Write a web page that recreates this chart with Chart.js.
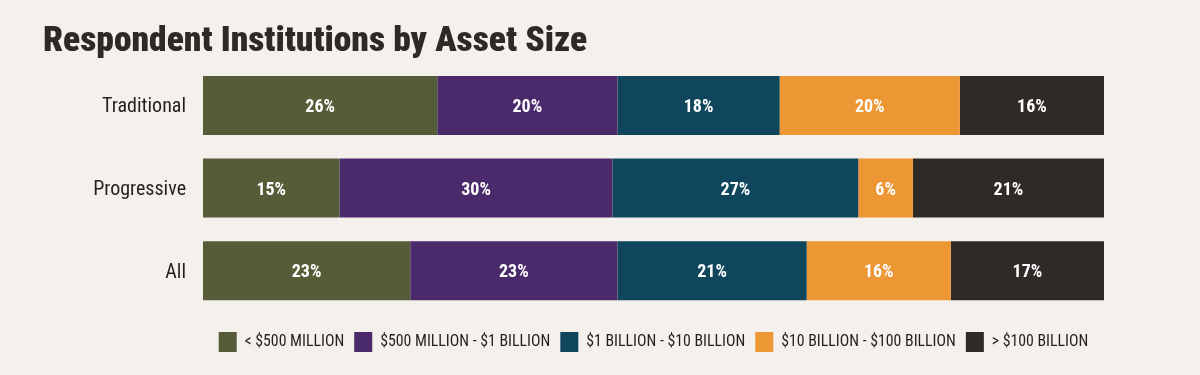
<!DOCTYPE html>
<html>
<head>
<meta charset="utf-8">
<script src="https://cdn.jsdelivr.net/npm/chart.js@4.4.1/dist/chart.umd.min.js"></script>
<style>
  html, body { margin: 0; padding: 0; background: #f4f1ed; }
  #wrap { width: 1200px; height: 375px; }
</style>
</head>
<body>
<div id="wrap"><canvas id="assetChart" width="1200" height="375"></canvas></div>
<script>
// survey groups (rows) and asset size buckets (stacked segments)
const categories = ['Traditional', 'Progressive', 'All'];
const sizeLabels = ['< $500 MILLION', '$500 MILLION - $1 BILLION', '$1 BILLION - $10 BILLION', '$10 BILLION - $100 BILLION', '> $100 BILLION'];
const under500m = [26, 15, 23];
const m500to1b = [20, 30, 23];
const b1to10b = [18, 27, 21];
const b10to100b = [20, 6, 16];
const over100b = [16, 21, 17];

const seriesValues = [under500m, m500to1b, b1to10b, b10to100b, over100b];
const sizeColors = ['#565c38', '#4b2a6b', '#0f465b', '#ec9634', '#2f2a27'];
const condensed = '"Roboto Condensed", "Liberation Sans Narrow", "DejaVu Sans Condensed", Roboto, sans-serif';

// rows are drawn as share of their own total (Progressive adds up to 99)
const rowTotals = categories.map((_, i) => seriesValues.reduce((s, v) => s + v[i], 0));

const segmentLabels = {
  id: 'segmentLabels',
  afterDatasetsDraw(chart) {
    const ctx = chart.ctx;
    ctx.save();
    ctx.fillStyle = '#ffffff';
    ctx.font = 'bold 18px ' + condensed;
    ctx.textAlign = 'center';
    ctx.textBaseline = 'middle';
    chart.data.datasets.forEach((ds, di) => {
      chart.getDatasetMeta(di).data.forEach((bar, i) => {
        const p = bar.getCenterPoint();
        ctx.fillText(ds.raw[i] + '%', p.x, p.y + 2);
      });
    });
    ctx.restore();
  }
};

Chart.defaults.font.family = condensed;

new Chart(document.getElementById('assetChart'), {
  type: 'bar',
  data: {
    labels: categories,
    datasets: seriesValues.map((vals, k) => ({
      label: sizeLabels[k],
      raw: vals,
      data: vals.map((v, i) => v / rowTotals[i] * 100),
      backgroundColor: sizeColors[k],
      borderWidth: 0,
      categoryPercentage: 1,
      barPercentage: 0.715
    }))
  },
  options: {
    indexAxis: 'y',
    responsive: false,
    animation: false,
    layout: { padding: { left: 43, right: 96, top: 21, bottom: 13 } },
    scales: {
      x: {
        stacked: true, min: 0, max: 100,
        grid: { display: false },
        border: { display: false },
        ticks: { display: false },
        afterFit(scale) { scale.height = 10; }
      },
      y: {
        stacked: true,
        grid: { display: false, drawTicks: false },
        border: { display: false },
        ticks: { color: '#231f1c', font: { size: 20 }, padding: 17, labelOffset: 2 },
        afterFit(scale) { scale.width = 160; }
      }
    },
    plugins: {
      title: {
        display: true,
        text: 'Respondent Institutions by Asset Size',
        align: 'start',
        color: '#2d2926',
        font: { size: 35.5, weight: '900' },
        padding: { top: 0, bottom: 0.5 }
      },
      legend: {
        position: 'bottom',
        fullSize: false,
        labels: {
          color: '#231f1c',
          font: { size: 15.8 },
          boxWidth: 18,
          boxHeight: 20,
          padding: 10
        }
      },
      tooltip: { enabled: false }
    }
  },
  plugins: [segmentLabels]
});
</script>
</body>
</html>
